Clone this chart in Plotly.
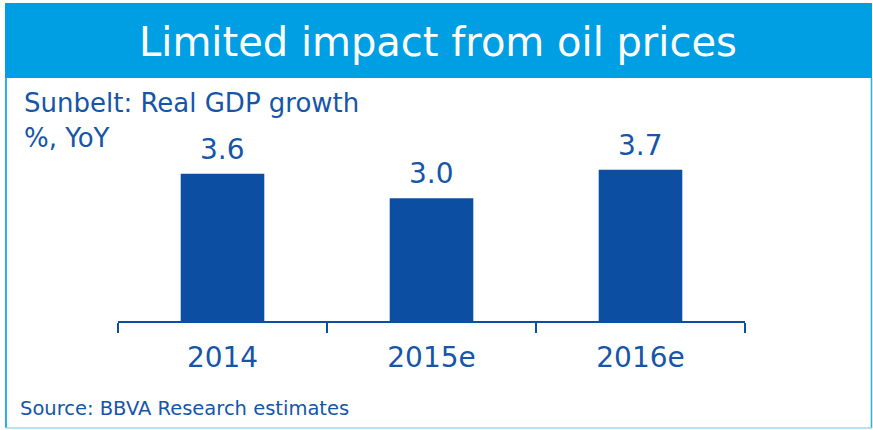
import plotly.graph_objects as go

# Chart data
categories = ["2014", "2015e", "2016e"]
growth = [3.6, 3.0, 3.7]
value_labels = ["3.6", "3.0", "3.7"]

title_text = "Limited impact from oil prices"
subtitle_1 = "Sunbelt: Real GDP growth"
subtitle_2 = "%, YoY"
source_text = "Source: BBVA Research estimates"

W, H = 873, 430
ML, MR, MT, MB = 118, 128, 100, 109
PW, PH = W - ML - MR, H - MT - MB

BAND = "#009FE3"
BAR = "#0C4FA2"
TXT = "#1655A8"
FONT = "DejaVu Sans"


def px(x):
    return (x - ML) / PW


def py(y):
    return (H - MB - y) / PH


fig = go.Figure(
    go.Bar(
        x=categories,
        y=growth,
        marker=dict(color=BAR, line=dict(width=0)),
        width=0.4,
    )
)

shapes = [
    # title band
    dict(type="rect", xref="paper", yref="paper",
         x0=px(5), x1=px(872), y0=py(78), y1=py(3),
         fillcolor=BAND, line=dict(width=0), layer="below"),
    # frame sides
    dict(type="line", xref="paper", yref="paper",
         x0=px(6), x1=px(6), y0=py(78), y1=py(428),
         line=dict(color="#2AAFE8", width=2)),
    dict(type="line", xref="paper", yref="paper",
         x0=px(871.5), x1=px(871.5), y0=py(78), y1=py(428),
         line=dict(color="#2AAFE8", width=1.5)),
    dict(type="line", xref="paper", yref="paper",
         x0=px(6), x1=px(871.5), y0=py(428), y1=py(428),
         line=dict(color="#9ED9F0", width=1.5)),
]

annotations = [
    dict(text=title_text, xref="paper", yref="paper",
         x=px(438), y=py(42), xanchor="center", yanchor="middle",
         showarrow=False, font=dict(family=FONT, size=40, color="white")),
    dict(text=subtitle_1, xref="paper", yref="paper",
         x=px(22), y=py(103), xanchor="left", yanchor="middle",
         showarrow=False, font=dict(family=FONT, size=26, color=TXT)),
    dict(text=subtitle_2, xref="paper", yref="paper",
         x=px(22), y=py(138), xanchor="left", yanchor="middle",
         showarrow=False, font=dict(family=FONT, size=26, color=TXT)),
    dict(text=source_text, xref="paper", yref="paper",
         x=px(18), y=py(408), xanchor="left", yanchor="middle",
         showarrow=False, font=dict(family=FONT, size=19.5, color=TXT)),
]

# value labels above each bar (x given as category index)
for i, (val, lab) in enumerate(zip(growth, value_labels)):
    annotations.append(dict(
        text=lab, x=i, y=val, xref="x", yref="y",
        xanchor="center", yanchor="bottom", yshift=6,
        showarrow=False, font=dict(family=FONT, size=28, color=TXT),
    ))

fig.update_layout(
    width=W, height=H,
    margin=dict(l=ML, r=MR, t=MT, b=MB, pad=0),
    paper_bgcolor="white", plot_bgcolor="white",
    showlegend=False,
    shapes=shapes,
    annotations=annotations,
    bargap=0.6,
)

fig.update_xaxes(
    type="category", categoryorder="array", categoryarray=categories,
    range=[-0.5, len(categories) - 0.5],
    showline=True, linecolor=BAR, linewidth=2,
    ticks="outside", tickson="boundaries", ticklen=10, tickwidth=2, tickcolor=BAR,
    tickfont=dict(family=FONT, size=28, color=TXT),
    tickangle=0, ticklabelstandoff=10,
    showgrid=False, zeroline=False,
)
fig.update_yaxes(
    range=[0, PH / 40.9], visible=False, showgrid=False, zeroline=False,
)

fig.write_html("out.html")
